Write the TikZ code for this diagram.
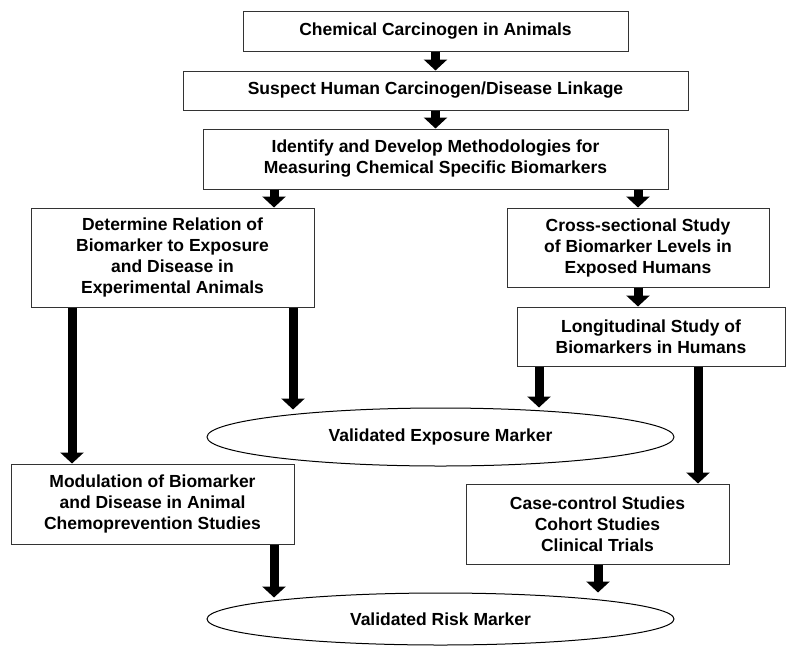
\documentclass[tikz,border=0pt]{standalone}
\usepackage{fontspec}
\setmainfont{Liberation Sans}
\usetikzlibrary{arrows.meta,shapes.geometric}
\begin{document}
\begin{tikzpicture}[x=1pt,y=-1pt,
  every node/.style={font=\fontsize{17.5}{21}\selectfont\bfseries, align=center, inner sep=0pt},
  boxnode/.style={draw=black!80, line width=1pt, rectangle},
  ellnode/.style={draw=black, line width=1pt, ellipse, minimum width=467pt},
  arr/.style={line width=9pt, -{Triangle[width=23pt,length=11pt]}}]
\useasboundingbox (0,0) rectangle (787,646);
\node[boxnode, minimum width=385pt, minimum height=40pt] (b1) at (435.5,31) {Chemical Carcinogen in Animals};
\node[boxnode, minimum width=505pt, minimum height=39pt] (b2) at (435.5,90.5) {Suspect Human Carcinogen/Disease Linkage};
\node[boxnode, minimum width=465pt, minimum height=60pt] (b3) at (435.5,159) {Identify and Develop Methodologies for\\Measuring Chemical Specific Biomarkers};
\node[boxnode, minimum width=283pt, minimum height=99pt] (b4) at (172.5,257.5) {Determine Relation of\\Biomarker to Exposure\\and Disease in\\Experimental Animals};
\node[boxnode, minimum width=262pt, minimum height=79pt] (b5) at (638,247.5) {Cross-sectional Study\\of Biomarker Levels in\\Exposed Humans};
\node[boxnode, minimum width=268pt, minimum height=59pt] (b6) at (651,336.5) {Longitudinal Study of\\Biomarkers in Humans};
\node[boxnode, minimum width=283pt, minimum height=80pt] (b7) at (152.5,504) {Modulation of Biomarker\\and Disease in Animal\\Chemoprevention Studies};
\node[boxnode, minimum width=263pt, minimum height=80pt] (b8) at (597.5,524) {Case-control Studies\\Cohort Studies\\Clinical Trials};
\node[ellnode, minimum height=58pt] (e1) at (440.5,437) {Validated Exposure Marker};
\node[ellnode, minimum height=52pt] (e2) at (440.5,619) {Validated Risk Marker};
\coordinate (x72) at (72,0);
\coordinate (x274) at (274,0);
\coordinate (x293) at (293,0);
\coordinate (x539) at (539,0);
\coordinate (x598) at (598,0);
\coordinate (x638) at (638,0);
\coordinate (x698) at (698,0);
\draw[arr] (b1.south) -- (b2.north);
\draw[arr] (b2.south) -- (b3.north);
\draw[arr] (b3.south -| x274) -- (b4.north -| x274);
\draw[arr] (b3.south -| x638) -- (b5.north);
\draw[arr] (b5.south) -- (b6.north -| x638);
\draw[arr] (b4.south -| x293) -- ([yshift=-2pt]x293 |- e1.north);
\draw[arr] (b4.south -| x72) -- (b7.north -| x72);
\draw[arr] (b6.south -| x539) -- (x539 |- e1.north);
\draw[arr] (b6.south -| x698) -- (b8.north -| x698);
\draw[arr] (b7.south -| x274) -- ([yshift=-5pt]x274 |- e2.north);
\draw[arr] (b8.south -| x598) -- (x598 |- e2.north);
\end{tikzpicture}
\end{document}
